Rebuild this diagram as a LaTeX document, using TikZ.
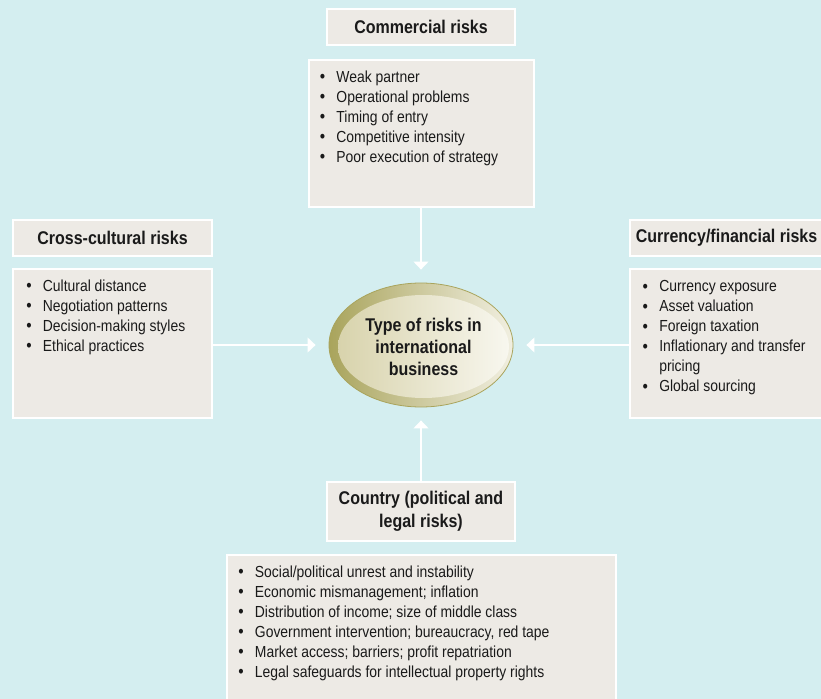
\documentclass[tikz,border=0pt]{standalone}
\usepackage{fontspec}
\setmainfont{Liberation Sans}[FakeStretch=0.87]
\usetikzlibrary{shapes.geometric,arrows.meta}
\definecolor{bgcyan}{HTML}{D4EEF0}
\definecolor{boxfill}{HTML}{EDEAE5}
\definecolor{olivedark}{HTML}{A9A45C}
\definecolor{olivelight}{HTML}{F1EFE1}
\definecolor{innerdark}{HTML}{D8D3AC}
\definecolor{innerlight}{HTML}{F8F7EF}
\definecolor{ink}{HTML}{1A1A1A}
\newcommand{\bstrut}{\rule{0pt}{10pt}}
\newcommand{\bl}{\textbullet}

\begin{document}
\begin{tikzpicture}[x=0.75pt,y=-0.75pt,>={Triangle[width=11pt,length=6pt]},
	titlebox/.style={draw=white,line width=1.5pt,fill=boxfill,text=ink,font=\bfseries\fontsize{13.8}{17}\selectfont,align=center,inner sep=0pt},
	listbox/.style={draw=white,line width=1.5pt,fill=boxfill,inner sep=0pt},
	listtext/.style={anchor=north west,align=left,inner sep=0pt,text=ink,font=\fontsize{12}{15}\selectfont},
	bullettext/.style={listtext,font=\fontsize{13.2}{15}\selectfont},
	flow/.style={->,draw=white,line width=1.5pt,shorten >=9.75pt}]
			\useasboundingbox (0,0) rectangle (821,699);
			\clip (0,0) rectangle (821,699);
			\fill[bgcyan] (0,0) rectangle (821,699);
			\node[titlebox,minimum width=141pt,minimum height=27pt] (comtitle) at (421,27) {Commercial risks};
			\node[listbox,minimum width=168.75pt,minimum height=110.25pt] (comlist) at (421,133.5) {};
			\node[bullettext] (combullets) at ([xshift=9pt,yshift=-7.6pt]comlist.north west) {\bstrut\bl\\\bl\\\bl\\\bl\\\bl};
			\node[listtext] (comitems) at ([xshift=21.5pt,yshift=-7.25pt]comlist.north west) {\bstrut Weak partner\\Operational problems\\Timing of entry\\Competitive intensity\\Poor execution of strategy};
			\node[titlebox,minimum width=149.25pt,minimum height=27pt] (crosstitle) at (112.5,238) {Cross-cultural risks};
			\node[listbox,minimum width=149.25pt,minimum height=111.75pt] (crosslist) at (112.5,343.5) {};
			\node[bullettext] (crossbullets) at ([xshift=10.5pt,yshift=-7.6pt]crosslist.north west) {\bstrut\bl\\\bl\\\bl\\\bl};
			\node[listtext] (crossitems) at ([xshift=23pt,yshift=-7.25pt]crosslist.north west) {\bstrut Cultural distance\\Negotiation patterns\\Decision-making styles\\Ethical practices};
			\node[titlebox,minimum width=144.75pt,minimum height=27pt] (curtitle) at (726.5,238) {Currency/financial risks};
			\node[listbox,minimum width=144.75pt,minimum height=111.75pt] (curlist) at (726.5,343.5) {};
			\node[bullettext] (curbullets) at ([xshift=10pt,yshift=-8.1pt]curlist.north west) {\bstrut\bl\\\bl\\\bl\\\bl\\\mbox{}\\\bl};
			\node[listtext] (curitems) at ([xshift=22.5pt,yshift=-7.75pt]curlist.north west) {\bstrut Currency exposure\\Asset valuation\\Foreign taxation\\Inflationary and transfer\\pricing\\Global sourcing};
			\node[titlebox,minimum width=141pt,minimum height=44.25pt] (ctrytitle) at (421,511.5) {Country (political and\\legal risks)};
			\node[listbox,minimum width=291.75pt,minimum height=109.5pt] (ctrylist) at (421.5,628) {};
			\node[bullettext] (ctrybullets) at ([xshift=9pt,yshift=-7.6pt]ctrylist.north west) {\bstrut\bl\\\bl\\\bl\\\bl\\\bl\\\bl};
			\node[listtext] (ctryitems) at ([xshift=21.5pt,yshift=-7.25pt]ctrylist.north west) {\bstrut Social/political unrest and instability\\Economic mismanagement; inflation\\Distribution of income; size of middle class\\Government intervention; bureaucracy, red tape\\Market access; barriers; profit repatriation\\Legal safeguards for intellectual property rights};
			\node[ellipse,draw=olivedark,line width=0.6pt,left color=olivedark,right color=olivelight,minimum width=138pt,minimum height=93pt,inner sep=0pt] (risks) at (421,345) {};
			\node[ellipse,left color=innerdark,right color=innerlight,minimum width=128.25pt,minimum height=77.25pt,inner sep=0pt,text=ink,align=center,font=\bfseries\fontsize{13.8}{16.5}\selectfont] (risklabel) at (423.5,346.5) {Type of risks in\\international\\business};
			\draw[flow] (comlist.south) -- (risks.north);
			\draw[flow] (crosslist.east |- risks.west) -- (risks.west);
			\draw[flow] (curlist.west |- risks.east) -- (risks.east);
			\draw[flow] (ctrytitle.north) -- (risks.south);
		\end{tikzpicture}
\end{document}
